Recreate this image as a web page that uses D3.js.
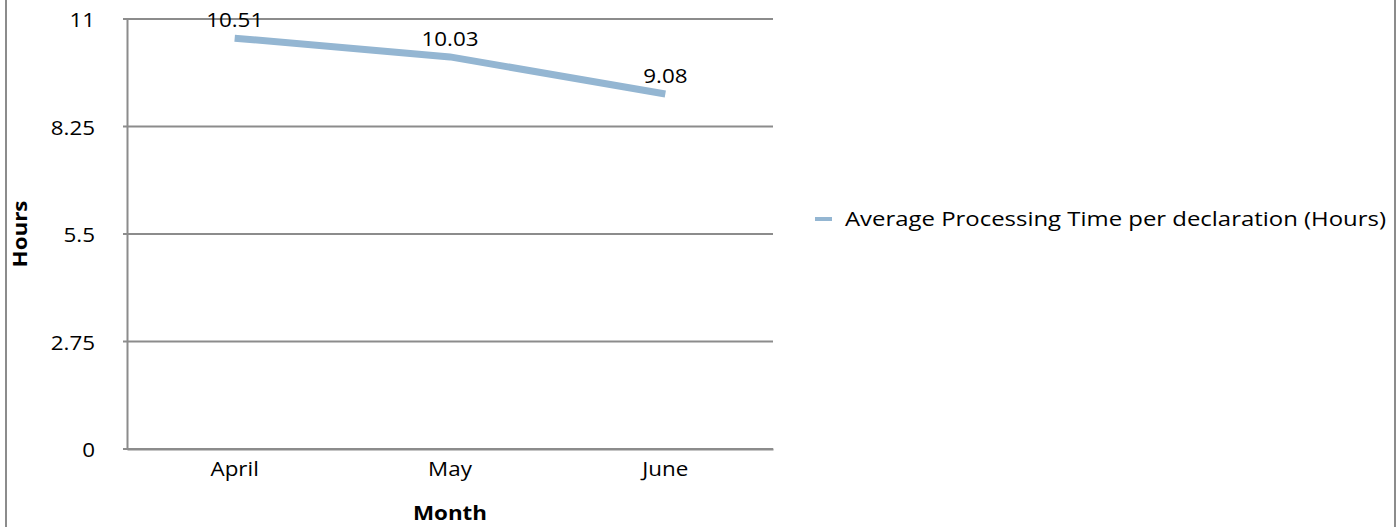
<!DOCTYPE html>
<html>
<head>
<meta charset="utf-8">
<script src="https://cdn.jsdelivr.net/npm/d3@7"></script>
<style>
  body { margin: 0; background: #fff; }
  svg text { font-family: "Open Sans", "Noto Sans", sans-serif; fill: #000; }
</style>
</head>
<body>
<svg id="chart" width="1398" height="527"></svg>
<script>
// chart data
var months = ["April", "May", "June"];
var hours = [10.51, 10.03, 9.08];
var yTicks = [0, 2.75, 5.5, 8.25, 11];
var seriesName = "Average Processing Time per declaration (Hours)";

const svg    = d3.select("#chart"),
      margin = {top: 19, right: 625, bottom: 78, left: 127},
      width  = +svg.attr("width")  - margin.left - margin.right,
      height = +svg.attr("height") - margin.top  - margin.bottom,
      x      = d3.scaleBand().domain(months).range([0, width]),
      y      = d3.scaleLinear().domain([0, 11]).range([height, 0]),
      g      = svg.append("g")
                  .attr("transform", `translate(${margin.left},${margin.top})`);

var gridColor = "#8c8c8c";
var lineColor = "#94b6d2";
var fontSize = "20px";
var stretch = 1.12; // the original text is a bit wider than Open Sans

// text placed at (px,py), stretched along its own direction
function label(parent, px, py, txt, anchor, rot) {
  var t = parent.append("g")
      .attr("transform", `translate(${px},${py})` + (rot ? ` rotate(${rot})` : "") + ` scale(${stretch},1)`)
    .append("text")
      .attr("text-anchor", anchor || "middle")
      .style("font-size", fontSize)
      .text(txt);
  return t;
}

// outer border (only left and right edges visible)
svg.append("line").attr("x1", 6).attr("x2", 6).attr("y1", 0).attr("y2", 527)
   .attr("stroke", gridColor).attr("stroke-width", 2);
svg.append("line").attr("x1", 1395).attr("x2", 1395).attr("y1", 0).attr("y2", 527)
   .attr("stroke", gridColor).attr("stroke-width", 2);

// gridlines (start a little left of the axis like the small tick marks)
g.selectAll(".grid")
  .data(yTicks)
  .enter().append("line")
    .attr("class", "grid")
    .attr("x1", -4).attr("x2", width)
    .attr("y1", d => y(d)).attr("y2", d => y(d))
    .attr("stroke", gridColor).attr("stroke-width", 2);

// y axis
const yAxis = g.append("g")
    .call(d3.axisLeft(y).tickValues(yTicks).tickSize(0).tickFormat(""));
yAxis.select(".domain").attr("stroke", gridColor).attr("stroke-width", 2);
yTicks.forEach(function (d) {
  label(g, -32, y(d) + 1, d, "end").attr("dy", "0.35em");
});

// x axis
const xAxis = g.append("g")
    .attr("transform", `translate(0,${height})`)
    .call(d3.axisBottom(x).tickSize(0).tickFormat(""));
xAxis.select(".domain").attr("stroke", gridColor).attr("stroke-width", 2);
months.forEach(function (m) {
  label(g, x(m) + x.bandwidth() / 2, height + 27, m);
});

// line
const line = d3.line()
    .x((d, i) => x(months[i]) + x.bandwidth() / 2)
    .y(d => y(d));

g.append("path")
    .datum(hours)
    .attr("fill", "none")
    .attr("stroke", lineColor)
    .attr("stroke-width", 7)
    .attr("d", line);

// value labels
hours.forEach(function (d, i) {
  label(g, x(months[i]) + x.bandwidth() / 2, y(d) - 11, d.toFixed(2));
});

// axis titles
label(svg, 27, 234, "Hours", "middle", -90).style("font-weight", "bold");
label(svg, margin.left + width / 2, 520, "Month").style("font-weight", "bold");

// legend
svg.append("line")
    .attr("x1", 815).attr("x2", 832).attr("y1", 219).attr("y2", 219)
    .attr("stroke", lineColor).attr("stroke-width", 4);
svg.append("text")
    .attr("x", 845).attr("y", 219).attr("dy", "0.35em")
    .style("font-size", fontSize)
    .attr("textLength", 541)
    .attr("lengthAdjust", "spacingAndGlyphs")
    .text(seriesName);
</script>
</body>
</html>
